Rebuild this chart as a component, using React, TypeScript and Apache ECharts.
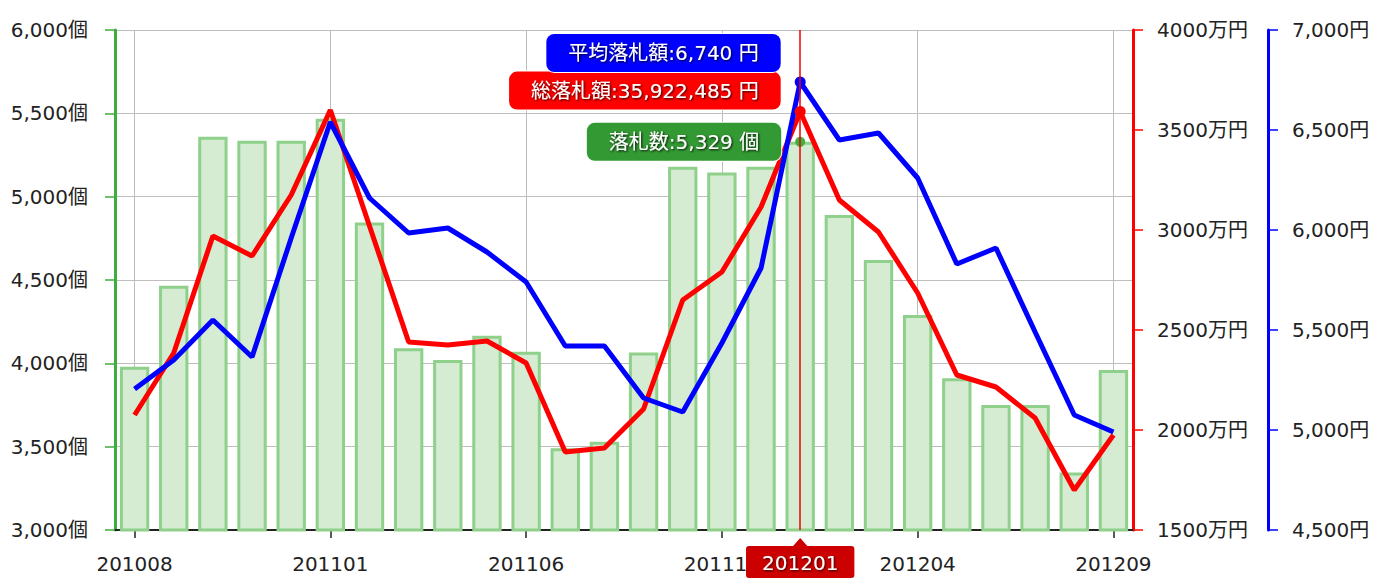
import React, { useEffect, useRef } from "react";
import * as echarts from "echarts";

const months = [
  "201008", "201009", "201010", "201011", "201012", "201101", "201102", "201103", "201104",
  "201105", "201106", "201107", "201108", "201109", "201110", "201111", "201112", "201201",
  "201202", "201203", "201204", "201205", "201206", "201207", "201208", "201209",
];

// 落札数 (個)
const counts = [
  3980, 4465, 5360, 5335, 5335, 5468, 4845, 4090, 4020, 4165, 4070, 3490, 3530, 4065,
  5180, 5145, 5180, 5329, 4890, 4620, 4290, 3910, 3750, 3750, 3345, 3960,
];

// 総落札額 (万円)
const totals = [
  2075, 2385, 2970, 2870, 3175, 3600, 3020, 2440, 2425, 2445, 2335, 1890, 1910, 2105,
  2650, 2790, 3115, 3592.2485, 3150, 2990, 2685, 2275, 2215, 2060, 1700, 1975,
];

// 平均落札額 (円)
const averages = [
  5205, 5350, 5550, 5365, 5960, 6540, 6160, 5985, 6010, 5890, 5740, 5420, 5420, 5160,
  5090, 5435, 5810, 6740, 6450, 6485, 6260, 5830, 5910, 5490, 5075, 4990,
];

const countTicks = { min: 3000, max: 6000, interval: 500 };
const totalTicks = { min: 1500, max: 4000, interval: 500 };
const avgTicks = { min: 4500, max: 7000, interval: 500 };

const highlightIndex = 17;

const FONT = 'Verdana, "DejaVu Sans", "Noto Sans CJK JP", sans-serif';
const fmt = (v: number) => Math.round(v).toLocaleString("en-US");

const tipLabel = (text: string, bg: string, dy: number) => ({
  show: true,
  position: "left",
  distance: 14,
  offset: [0, dy],
  formatter: text,
  color: "#fff",
  backgroundColor: bg,
  borderColor: "#fff",
  borderWidth: 1,
  borderRadius: 8,
  padding: [9, 22, 9, 22],
  fontSize: 20,
  fontFamily: FONT,
  textShadowColor: "rgba(0,0,0,0.9)",
  textShadowBlur: 2,
  textShadowOffsetX: 1,
  textShadowOffsetY: 1,
});

export default function App() {
  const ref = useRef<HTMLDivElement>(null);

  useEffect(() => {
    if (!ref.current) return;
    const chart = echarts.init(ref.current, undefined, { renderer: "svg" });
    const hl = highlightIndex;
    const axisLabelBase = { fontSize: 20, color: "#222", fontFamily: FONT };

    chart.setOption({
      animation: false,
      grid: { left: 115, right: 251, top: 30, bottom: 48, containLabel: false },
      xAxis: {
        type: "category",
        data: months,
        boundaryGap: true,
        axisLine: { onZero: false, lineStyle: { color: "#222", width: 2 } },
        axisTick: { show: true, interval: 4, alignWithLabel: true, length: 8, lineStyle: { color: "#222", width: 1.5 } },
        axisLabel: { ...axisLabelBase, interval: 4, margin: 24 },
        splitLine: { show: true, interval: 4, alignWithLabel: true, lineStyle: { color: "#bdbdbd", width: 1 } },
        axisPointer: {
          show: true,
          type: "line",
          value: hl,
          status: "show",
          snap: true,
          triggerTooltip: false,
          lineStyle: { color: "#ee0000", width: 1.5, type: "solid" },
          label: {
            show: true,
            backgroundColor: "#cc0000",
            color: "#fff",
            fontSize: 20,
            fontFamily: FONT,
            padding: [7, 16, 5, 16],
            margin: 16,
            textShadowColor: "rgba(0,0,0,0.8)",
            textShadowBlur: 2,
            textShadowOffsetX: 1,
            textShadowOffsetY: 1,
          },
        },
      },
      yAxis: [
        {
          type: "value",
          position: "left",
          ...countTicks,
          axisLine: { show: true, lineStyle: { color: "#3cae3c", width: 3 } },
          axisTick: { show: true, length: 10, lineStyle: { color: "#3cae3c", width: 1.5 } },
          axisLabel: { ...axisLabelBase, margin: 27, padding: [0, 0, 8, 0], formatter: (v: number) => fmt(v) + "個" },
          splitLine: { show: true, lineStyle: { color: "#bdbdbd", width: 1 } },
        },
        {
          type: "value",
          position: "right",
          offset: 0,
          ...totalTicks,
          axisLine: { show: true, lineStyle: { color: "#ff0000", width: 3 } },
          axisTick: { show: true, length: 10, lineStyle: { color: "#ff0000", width: 1.5 } },
          axisLabel: { ...axisLabelBase, margin: 24, padding: [0, 0, 8, 0], formatter: (v: number) => v + "万円" },
          splitLine: { show: false },
        },
        {
          type: "value",
          position: "right",
          offset: 135,
          ...avgTicks,
          axisLine: { show: true, lineStyle: { color: "#0000ff", width: 3 } },
          axisTick: { show: true, length: 10, lineStyle: { color: "#0000ff", width: 1.5 } },
          axisLabel: { ...axisLabelBase, margin: 24, padding: [0, 0, 8, 0], formatter: (v: number) => fmt(v) + "円" },
          splitLine: { show: false },
        },
      ],
      series: [
        {
          type: "bar",
          name: "落札数",
          yAxisIndex: 0,
          data: counts,
          barCategoryGap: "25%",
          itemStyle: { color: "#d5ecd3", borderColor: "#8fd08b", borderWidth: 3 },
          markPoint: {
            symbol: "circle",
            symbolSize: 10,
            itemStyle: { color: "#3fb03f" },
            data: [
              {
                coord: [months[hl], counts[hl]],
                label: tipLabel("落札数:" + fmt(counts[hl]) + " 個", "#339933", 0),
              },
            ],
          },
        },
        {
          type: "line",
          name: "総落札額",
          yAxisIndex: 1,
          data: totals,
          symbol: "none",
          lineStyle: { color: "#ff0000", width: 5 },
          itemStyle: { color: "#ff0000" },
          markPoint: {
            symbol: "circle",
            symbolSize: 11,
            itemStyle: { color: "#ff0000" },
            data: [
              {
                coord: [months[hl], totals[hl]],
                label: tipLabel("総落札額:" + fmt(totals[hl] * 10000) + " 円", "#ff0000", -21),
              },
            ],
          },
        },
        {
          type: "line",
          name: "平均落札額",
          yAxisIndex: 2,
          data: averages,
          symbol: "none",
          lineStyle: { color: "#0000ff", width: 5 },
          itemStyle: { color: "#0000ff" },
          markPoint: {
            symbol: "circle",
            symbolSize: 11,
            itemStyle: { color: "#0000ff" },
            data: [
              {
                coord: [months[hl], averages[hl]],
                label: tipLabel("平均落札額:" + fmt(averages[hl]) + " 円", "#0000ff", -29),
              },
            ],
          },
        },
      ],
    });

    const px = chart.convertToPixel({ xAxisIndex: 0 }, months[hl]) as number;
    const py = chart.convertToPixel({ yAxisIndex: 0 }, countTicks.min) as number;
    chart.setOption({
      graphic: [
        {
          type: "polygon",
          z: 100,
          shape: { points: [[px - 8, py + 17], [px, py + 8], [px + 8, py + 17]] },
          style: { fill: "#cc0000" },
        },
      ],
    });

    return () => chart.dispose();
  }, []);

  return (
    <div
      ref={ref}
      style={{ position: "fixed", left: 0, top: 0, width: 1384, height: 578, background: "#fff" }}
    />
  );
}
